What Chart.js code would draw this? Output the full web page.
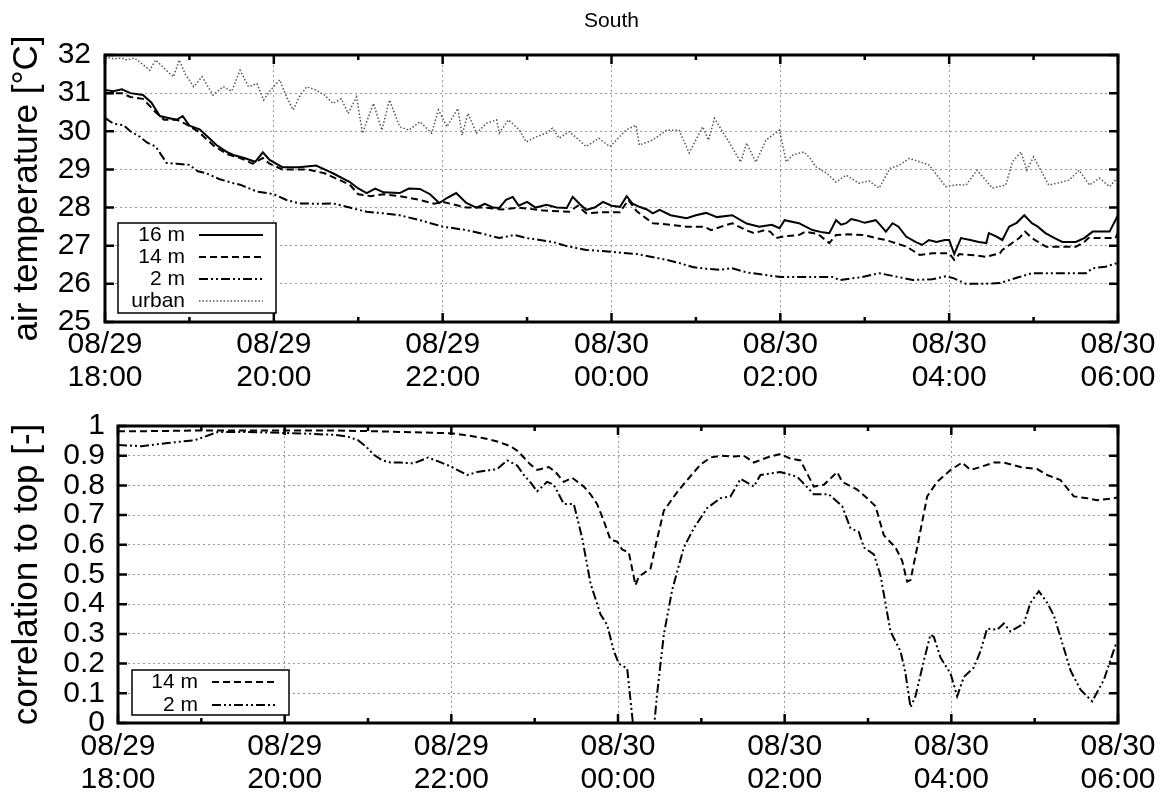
<!DOCTYPE html>
<html><head><meta charset="utf-8">
<script src="https://cdn.jsdelivr.net/npm/chart.js@4.4.1/dist/chart.umd.min.js"></script>
<style>
html,body{margin:0;padding:0;background:#fff;}
#wrap{position:relative;width:1166px;height:793px;overflow:hidden;background:#fff}
canvas{position:absolute;left:0}
#c1{top:0}
#c2{top:395px}
</style></head><body>
<div id="wrap"><canvas id="c1" width="1166" height="400"></canvas><canvas id="c2" width="1166" height="398"></canvas></div>
<script>
const FONT = '"Liberation Sans", Arial, Helvetica, sans-serif';
const chartTitle = 'South';
const xTickLabels = [['08/29','18:00'],['08/29','20:00'],['08/29','22:00'],['08/30','00:00'],['08/30','02:00'],['08/30','04:00'],['08/30','06:00']];
const topYTickLabels = ['25','26','27','28','29','30','31','32'];
const bottomYTickLabels = ['0','0.1','0.2','0.3','0.4','0.5','0.6','0.7','0.8','0.9','1'];
const topYTitle = 'air temperature [°C]';
const bottomYTitle = 'correlation to top [-]';
const topSeriesNames = ['16 m','14 m','2 m','urban'];
const bottomSeriesNames = ['14 m','2 m'];

// hours after 08/29 18:00
const t16 = [0,0.1,0.2,0.3,0.45,0.55,0.65,0.75,0.85,0.92,1.0,1.12,1.22,1.32,1.45,1.52,1.65,1.78,1.87,1.95,2.1,2.3,2.5,2.6,2.7,2.9,3.0,3.1,3.2,3.3,3.49,3.6,3.73,3.85,3.96,4.05,4.16,4.28,4.4,4.5,4.6,4.67,4.75,4.83,4.9,5.0,5.1,5.23,5.35,5.47,5.54,5.62,5.7,5.8,5.9,6.0,6.1,6.18,6.25,6.33,6.42,6.49,6.57,6.7,6.89,7.0,7.12,7.25,7.43,7.6,7.75,7.9,7.99,8.05,8.22,8.3,8.38,8.5,8.58,8.66,8.72,8.78,8.84,8.9,9.0,9.13,9.2,9.25,9.33,9.4,9.49,9.6,9.68,9.76,9.85,9.95,10.0,10.06,10.14,10.25,10.35,10.44,10.47,10.55,10.63,10.71,10.8,10.89,10.98,11.05,11.14,11.25,11.34,11.5,11.6,11.7,11.8,11.9,12.0];
const temp16 = [31.08,31.05,31.1,31.0,30.95,30.75,30.4,30.35,30.3,30.4,30.15,30.05,29.85,29.64,29.45,29.38,29.3,29.2,29.45,29.25,29.06,29.06,29.1,29.0,28.9,28.67,28.5,28.38,28.5,28.4,28.38,28.5,28.49,28.35,28.12,28.25,28.38,28.12,28.0,28.1,28.0,27.99,28.2,28.28,28.05,28.15,28.0,28.07,28.0,27.99,28.28,28.1,27.94,28.0,28.15,28.05,28.02,28.3,28.1,28.02,27.95,27.85,27.94,27.8,27.72,27.8,27.86,27.75,27.8,27.58,27.5,27.55,27.46,27.67,27.59,27.5,27.41,27.35,27.33,27.67,27.55,27.59,27.7,27.67,27.6,27.67,27.5,27.37,27.59,27.5,27.24,27.1,27.02,27.15,27.1,27.15,27.15,26.78,27.2,27.15,27.1,27.07,27.33,27.25,27.15,27.5,27.6,27.8,27.59,27.5,27.33,27.2,27.1,27.1,27.2,27.37,27.37,27.37,27.8];

const t14 = [0,0.2,0.3,0.45,0.6,0.7,0.85,0.95,1.1,1.2,1.3,1.45,1.6,1.75,1.87,1.95,2.1,2.4,2.6,2.75,2.9,3.0,3.15,3.3,3.49,3.73,3.9,4.0,4.28,4.5,4.7,4.9,5.1,5.2,5.4,5.5,5.6,5.7,5.9,6.1,6.2,6.3,6.49,6.7,6.89,7.1,7.18,7.3,7.43,7.6,7.69,7.8,7.88,7.95,8.05,8.22,8.3,8.45,8.58,8.66,8.8,9.0,9.13,9.25,9.5,9.65,9.8,10.0,10.06,10.12,10.3,10.44,10.6,10.63,10.83,10.9,10.98,11.15,11.5,11.6,11.65,11.97,12.0];
const temp14 = [31.0,31.0,30.9,30.85,30.5,30.3,30.3,30.2,30.0,29.8,29.6,29.4,29.3,29.15,29.3,29.15,29.0,29.0,28.9,28.75,28.6,28.35,28.3,28.35,28.3,28.2,28.1,28.15,28.0,28.0,27.95,28.0,27.95,27.92,27.9,27.89,28.05,27.85,27.88,27.88,28.2,27.9,27.59,27.55,27.5,27.5,27.41,27.5,27.59,27.4,27.33,27.4,27.37,27.2,27.25,27.28,27.37,27.3,27.07,27.28,27.3,27.28,27.2,27.15,26.97,26.76,26.8,26.8,26.63,26.78,26.75,26.71,26.8,26.89,27.2,27.37,27.2,26.97,26.97,27.1,27.2,27.2,27.35];

const t2 = [0,0.1,0.22,0.3,0.41,0.5,0.6,0.73,0.85,1.0,1.1,1.2,1.35,1.52,1.6,1.8,2.0,2.15,2.3,2.5,2.7,2.9,3.1,3.3,3.49,3.73,4.0,4.28,4.5,4.67,4.85,5.0,5.15,5.3,5.47,5.7,6.0,6.3,6.65,6.8,6.96,7.1,7.28,7.43,7.6,7.83,8.0,8.3,8.62,8.7,8.97,9.17,9.35,9.57,9.8,9.96,10.05,10.2,10.4,10.6,10.83,10.98,11.3,11.62,11.7,11.85,12.0];
const temp2 = [30.35,30.2,30.16,30.0,29.86,29.7,29.6,29.17,29.15,29.12,28.95,28.9,28.75,28.64,28.6,28.42,28.35,28.2,28.11,28.1,28.11,28.0,27.89,27.85,27.8,27.67,27.5,27.41,27.3,27.2,27.28,27.2,27.15,27.1,26.99,26.89,26.84,26.78,26.63,26.55,26.44,26.4,26.37,26.41,26.3,26.23,26.18,26.18,26.18,26.1,26.18,26.28,26.2,26.1,26.12,26.2,26.15,26.0,26.0,26.02,26.18,26.28,26.28,26.28,26.41,26.45,26.55];

const tUrban = [0,0.1,0.2,0.26,0.35,0.45,0.53,0.6,0.7,0.81,0.88,0.95,1.05,1.15,1.28,1.4,1.5,1.6,1.7,1.8,1.88,1.95,2.07,2.15,2.23,2.3,2.39,2.5,2.6,2.7,2.8,2.88,2.98,3.05,3.18,3.28,3.37,3.49,3.6,3.73,3.87,3.95,4.05,4.18,4.23,4.3,4.4,4.52,4.64,4.67,4.78,4.91,4.99,5.1,5.23,5.3,5.38,5.5,5.6,5.7,5.85,5.98,6.05,6.17,6.29,6.33,6.49,6.65,6.8,6.92,7.08,7.15,7.22,7.4,7.53,7.6,7.71,7.83,7.99,8.07,8.15,8.28,8.35,8.42,8.55,8.66,8.78,8.93,9.05,9.17,9.3,9.4,9.53,9.65,9.76,9.96,10.1,10.2,10.33,10.42,10.51,10.67,10.75,10.85,10.92,11.0,11.08,11.18,11.3,11.42,11.54,11.66,11.78,11.9,12.0];
const tempUrban = [31.95,31.9,31.92,31.87,31.92,31.75,31.6,31.87,31.65,31.43,31.87,31.5,31.17,31.43,30.95,31.17,31.05,31.6,31.17,31.25,30.82,31.05,31.35,30.9,30.56,30.9,31.17,31.08,30.95,30.73,30.85,30.47,30.9,29.95,30.73,30.03,30.82,30.12,30.03,30.25,29.95,30.56,30.12,30.6,29.9,30.47,29.95,30.21,30.3,29.95,30.3,30.03,29.72,29.85,29.95,30.08,29.82,29.99,29.8,29.6,29.82,29.6,29.75,30.03,30.16,29.64,29.77,30.03,30.03,29.43,30.12,29.77,30.34,29.69,29.19,29.69,29.19,29.77,30.03,29.2,29.38,29.46,29.3,29.07,28.9,28.67,28.85,28.64,28.7,28.51,29.03,29.1,29.29,29.2,29.12,28.55,28.6,28.59,28.98,28.75,28.51,28.59,29.2,29.46,28.98,29.33,29.0,28.59,28.65,28.72,28.98,28.59,28.77,28.55,28.8];

const tCorr14 = [0,0.5,1.0,1.5,2.0,2.5,3.0,3.39,3.7,4.02,4.2,4.39,4.55,4.71,4.8,4.87,4.95,5.03,5.17,5.25,5.35,5.45,5.59,5.67,5.75,5.83,5.91,5.99,6.05,6.13,6.21,6.25,6.39,6.47,6.55,6.59,6.69,6.79,6.99,7.11,7.23,7.39,7.51,7.63,7.79,7.95,8.07,8.19,8.27,8.35,8.47,8.63,8.69,8.87,8.99,9.09,9.19,9.33,9.41,9.47,9.51,9.59,9.71,9.83,9.99,10.13,10.23,10.35,10.51,10.63,10.83,11.03,11.15,11.31,11.47,11.63,11.75,11.95,12.0];
const corr14 = [0.982,0.983,0.985,0.985,0.985,0.985,0.983,0.98,0.978,0.975,0.968,0.959,0.948,0.932,0.915,0.894,0.87,0.852,0.862,0.845,0.812,0.826,0.796,0.77,0.737,0.68,0.617,0.611,0.584,0.574,0.464,0.493,0.52,0.62,0.715,0.73,0.77,0.805,0.87,0.894,0.9,0.897,0.9,0.877,0.894,0.906,0.89,0.884,0.84,0.796,0.802,0.845,0.812,0.786,0.757,0.73,0.632,0.591,0.546,0.476,0.481,0.591,0.763,0.812,0.852,0.877,0.852,0.862,0.877,0.877,0.862,0.855,0.835,0.818,0.763,0.757,0.75,0.757,0.76];

const tCorr2 = [0,0.28,0.6,0.92,1.05,1.2,1.5,1.8,2.2,2.6,2.75,2.88,2.98,3.07,3.17,3.27,3.39,3.55,3.72,3.85,3.99,4.19,4.31,4.55,4.67,4.79,4.87,4.95,5.03,5.15,5.23,5.35,5.47,5.57,5.67,5.79,5.87,5.95,6.01,6.11,6.19,6.3,6.42,6.47,6.55,6.65,6.79,6.91,7.07,7.23,7.35,7.47,7.63,7.71,7.95,8.15,8.25,8.35,8.53,8.69,8.79,8.89,8.95,9.07,9.15,9.27,9.39,9.45,9.51,9.57,9.67,9.75,9.79,9.87,9.99,10.07,10.15,10.27,10.35,10.43,10.55,10.63,10.71,10.87,10.95,11.05,11.15,11.23,11.35,11.43,11.55,11.69,11.83,11.97,12.0];
const corr2 = [0.936,0.932,0.943,0.952,0.965,0.98,0.98,0.978,0.975,0.97,0.965,0.952,0.93,0.903,0.885,0.877,0.877,0.874,0.894,0.88,0.864,0.835,0.845,0.855,0.884,0.867,0.835,0.81,0.78,0.812,0.802,0.737,0.737,0.623,0.47,0.366,0.33,0.242,0.2,0.184,-0.03,-0.3,-0.05,0.1,0.298,0.448,0.591,0.656,0.724,0.757,0.763,0.822,0.796,0.835,0.845,0.829,0.8,0.77,0.77,0.73,0.656,0.643,0.591,0.568,0.497,0.308,0.242,0.167,0.053,0.09,0.21,0.298,0.29,0.22,0.167,0.09,0.155,0.187,0.242,0.318,0.314,0.335,0.308,0.335,0.405,0.444,0.405,0.362,0.252,0.177,0.112,0.073,0.145,0.262,0.27];

const pts = (t, v) => t.map((x, i) => ({x, y: v[i]}));
const DASH = {solid: [], dashed: [7,4], dashdot: [9,3,2,3,2,3], dotted: [1.5,2]};

const topStyles = [
  {color:'#000', width:2, dash:DASH.solid},
  {color:'#000', width:2, dash:DASH.dashed},
  {color:'#000', width:2, dash:DASH.dashdot},
  {color:'#555', width:1.5, dash:DASH.dotted}
];
const bottomStyles = [
  {color:'#000', width:2, dash:DASH.dashed},
  {color:'#000', width:2, dash:DASH.dashdot}
];

function makeFrame(legendNames, legendStyles, legendBox, drawTitle) {
  return {
    id: 'frame',
    afterDraw(chart) {
      const {ctx, chartArea: a, scales: {x, y}} = chart;
      ctx.save();
      ctx.strokeStyle = '#000';
      ctx.setLineDash([]);
      ctx.lineWidth = 2.5;
      ctx.beginPath();
      for (let h = x.min; h <= x.max; h++) {
        const px = x.getPixelForValue(h);
        const len = h % 2 === 0 ? 9 : 5;
        ctx.moveTo(px, a.bottom); ctx.lineTo(px, a.bottom - len);
        ctx.moveTo(px, a.top); ctx.lineTo(px, a.top + len);
      }
      y.ticks.forEach(tk => {
        const py = y.getPixelForValue(tk.value);
        ctx.moveTo(a.left, py); ctx.lineTo(a.left + 9, py);
        ctx.moveTo(a.right, py); ctx.lineTo(a.right - 9, py);
      });
      ctx.stroke();
      ctx.lineWidth = 3;
      ctx.strokeRect(a.left, a.top, a.right - a.left, a.bottom - a.top);
      if (drawTitle) {
        ctx.fillStyle = '#000';
        ctx.font = '21px ' + FONT;
        ctx.textAlign = 'center';
        ctx.textBaseline = 'middle';
        ctx.fillText(chartTitle, (a.left + a.right) / 2, 21);
      }
      // legend
      const bx = a.left + legendBox.dx, by = a.bottom - legendBox.dy;
      ctx.fillStyle = '#fff';
      ctx.fillRect(bx, by, legendBox.w, legendBox.h);
      ctx.lineWidth = 1.5;
      ctx.strokeStyle = '#000';
      ctx.strokeRect(bx, by, legendBox.w, legendBox.h);
      ctx.font = '21px ' + FONT;
      ctx.textAlign = 'right';
      ctx.textBaseline = 'middle';
      legendNames.forEach((name, i) => {
        const ry = by + legendBox.first + i * legendBox.step;
        ctx.fillStyle = '#000';
        ctx.fillText(name, bx + legendBox.textRight, ry);
        const st = legendStyles[i];
        ctx.strokeStyle = st.color;
        ctx.lineWidth = st.width;
        ctx.setLineDash(st.dash);
        ctx.beginPath();
        ctx.moveTo(bx + legendBox.lineFrom, ry);
        ctx.lineTo(bx + legendBox.lineTo, ry);
        ctx.stroke();
      });
      ctx.restore();
    }
  };
}

function baseOptions(cfg) {
  return {
    responsive: false,
    animation: false,
    devicePixelRatio: 1,
    layout: {padding: {top: cfg.padTop, right: 48, left: 0, bottom: 0}},
    plugins: {legend: {display: false}, tooltip: {enabled: false}, title: {display: false}},
    elements: {point: {radius: 0}, line: {tension: 0}},
    scales: {
      x: {
        type: 'linear', min: 0, max: 12,
        afterFit: s => { s.height = cfg.xHeight; },
        grid: {color: '#9a9a9a', lineWidth: 1, drawTicks: false},
        border: {display: false, dash: [2, 3]},
        ticks: {stepSize: 2, autoSkip: false, maxRotation: 0, minRotation: 0, padding: cfg.xPad, color: '#000',
          font: {size: 30, family: FONT, lineHeight: 1.1},
          callback: (v, i) => xTickLabels[i]}
      },
      y: {
        type: 'linear', min: cfg.yMin, max: cfg.yMax,
        afterFit: s => { s.width = cfg.yWidth; },
        grid: {color: '#9a9a9a', lineWidth: 1, drawTicks: false},
        border: {display: false, dash: [2, 3]},
        ticks: {stepSize: cfg.yStep, autoSkip: false, padding: cfg.yPad, color: '#000',
          font: {size: 30, family: FONT},
          callback: (v, i) => cfg.yLabels[i]},
        title: {display: true, text: cfg.yTitle, color: '#000', font: {size: 35, family: FONT}, padding: {top: 6, bottom: 0}}
      }
    }
  };
}

const topSeries = [pts(t16, temp16), pts(t14, temp14), pts(t2, temp2), pts(tUrban, tempUrban)];
new Chart(document.getElementById('c1'), {
  type: 'line',
  data: {datasets: topSeries.map((d, i) => ({
    label: topSeriesNames[i], data: d, borderColor: topStyles[i].color, borderWidth: topStyles[i].width,
    borderDash: topStyles[i].dash, pointRadius: 0, fill: false
  }))},
  options: baseOptions({padTop: 55, xHeight: 78, xPad: 6, yWidth: 105, yPad: 14, yMin: 25, yMax: 32, yStep: 1,
    yLabels: topYTickLabels, yTitle: topYTitle}),
  plugins: [makeFrame(topSeriesNames, topStyles,
    {dx: 13, dy: 99, w: 158, h: 90, first: 12, step: 22, textRight: 67, lineFrom: 81, lineTo: 145}, true)]
});

const bottomSeries = [pts(tCorr14, corr14), pts(tCorr2, corr2)];
new Chart(document.getElementById('c2'), {
  type: 'line',
  data: {datasets: bottomSeries.map((d, i) => ({
    label: bottomSeriesNames[i], data: d, borderColor: bottomStyles[i].color, borderWidth: bottomStyles[i].width,
    borderDash: bottomStyles[i].dash, pointRadius: 0, fill: false
  }))},
  options: baseOptions({padTop: 22, xHeight: 70, xPad: 7, yWidth: 118, yPad: 13, yMin: 0, yMax: 1, yStep: 0.1,
    yLabels: bottomYTickLabels, yTitle: bottomYTitle}),
  plugins: [makeFrame(bottomSeriesNames, bottomStyles,
    {dx: 14, dy: 53, w: 157, h: 45, first: 12, step: 23, textRight: 66, lineFrom: 80, lineTo: 144}, false)]
});
</script>
</body></html>
